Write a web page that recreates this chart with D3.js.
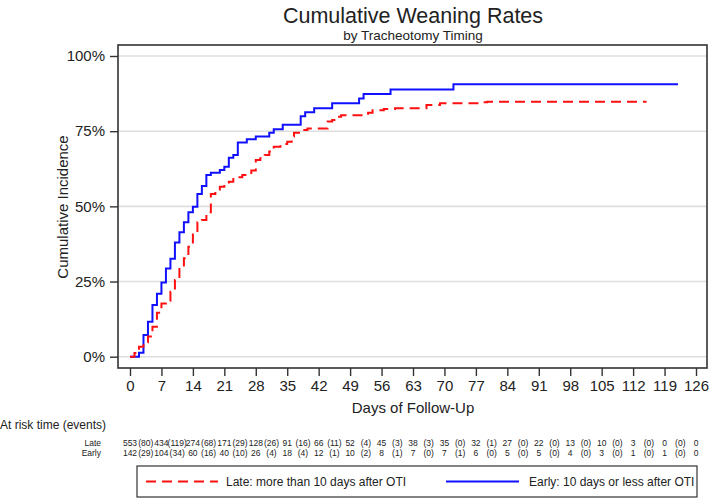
<!DOCTYPE html>
<html>
<head>
<meta charset="UTF-8">
<title>Cumulative Weaning Rates</title>
<style>
  body { margin: 0; background: #fff; }
  svg text { font-family: "Liberation Sans", Arial, sans-serif; fill: #222; }
</style>
</head>
<body>
<svg id="chart"></svg>
<script src="https://d3js.org/d3.v7.min.js"></script>
<script>
// x axis ticks (days)
var xTicks = [0, 7, 14, 21, 28, 35, 42, 49, 56, 63, 70, 77, 84, 91, 98, 105, 112, 119, 126];
var yTicks = [0, 25, 50, 75, 100];

// Late group: step times (days) and cumulative incidence (%)
var lateDays = [0, 1, 2, 3, 4, 5, 6, 7, 8, 9, 10, 11, 12, 13, 14, 15, 16, 17, 18, 19, 20, 21, 22, 23, 25, 27, 28, 29, 30, 31, 32, 33.5, 35, 36, 36.5, 38, 39.5, 44, 45, 46, 47, 53, 54, 56.5, 59, 66, 69, 78, 79.5, 115];
var lateCum = [0, 1.2, 3.3, 4.8, 6.7, 10.0, 14.6, 17.7, 18.5, 21.6, 25.5, 29.6, 32.7, 36.6, 41.2, 44.7, 45.5, 48.0, 54.1, 54.9, 56.5, 57.4, 58.2, 59.7, 60.4, 61.9, 65.4, 66.0, 67.1, 68.2, 69.8, 70.7, 71.5, 73.2, 74.5, 75.4, 75.9, 78.2, 78.7, 79.8, 80.3, 81.1, 82.0, 82.4, 82.6, 83.7, 84.3, 84.6, 84.8, 84.8];

// Early group
var earlyDays = [0, 2, 3, 4, 5, 6, 7, 8, 9, 10, 11, 12, 13, 14, 15, 16, 17, 18, 20, 21, 22, 23, 24, 26, 28, 31, 32, 34, 38, 39, 41, 45, 51, 52, 58, 72, 122];
var earlyCum = [0, 1.3, 7.2, 11.6, 17.2, 20.9, 24.7, 29.3, 32.6, 38.0, 41.4, 44.7, 48.0, 49.9, 54.1, 56.8, 60.4, 61.2, 62.1, 63.2, 66.2, 67.1, 71.2, 72.3, 73.2, 74.5, 75.6, 77.1, 80.0, 81.3, 82.6, 84.3, 85.9, 87.4, 88.9, 90.6, 90.6];

// risk table
var lateAtRisk = [553, 434, 274, 171, 128, 91, 66, 52, 45, 38, 35, 32, 27, 22, 13, 10, 3, 0, 0];
var lateEvents = [80, 119, 68, 29, 26, 16, 11, 4, 3, 3, 0, 1, 0, 0, 0, 0, 0, 0];
var earlyAtRisk = [142, 104, 60, 40, 26, 18, 12, 10, 8, 7, 7, 6, 5, 5, 4, 3, 1, 1, 0];
var earlyEvents = [29, 34, 16, 10, 4, 4, 1, 2, 1, 0, 1, 0, 0, 0, 0, 0, 0, 0];

var width = 709, height = 502;
var svg = d3.select("#chart").attr("width", width).attr("height", height);

var x = d3.scaleLinear().domain([0, 126]).range([130, 696]);
var y = d3.scaleLinear().domain([0, 100]).range([356.7, 56]);

// titles
svg.append("text").attr("x", 413).attr("y", 23).attr("text-anchor", "middle")
  .style("font-size", "21.5px").text("Cumulative Weaning Rates");
svg.append("text").attr("x", 413).attr("y", 40).attr("text-anchor", "middle")
  .style("font-size", "13.5px").text("by Tracheotomy Timing");

// gridlines
svg.append("g").selectAll("line").data(yTicks).enter().append("line")
  .attr("x1", 118).attr("x2", 707)
  .attr("y1", d => y(d)).attr("y2", d => y(d))
  .attr("stroke", "#dedede").attr("stroke-width", 1.6);

// frame
svg.append("rect").attr("x", 118).attr("y", 45).attr("width", 589).attr("height", 323)
  .attr("fill", "none").attr("stroke", "#333").attr("stroke-width", 1.6);

// axes
var xAxis = svg.append("g").attr("transform", "translate(0,368)")
  .call(d3.axisBottom(x).tickValues(xTicks).tickSize(8).tickPadding(4));
var yAxis = svg.append("g").attr("transform", "translate(118,0)")
  .call(d3.axisLeft(y).tickValues(yTicks).tickFormat(d => d + "%").tickSize(8).tickPadding(5));
[xAxis, yAxis].forEach(function(a) {
  a.select(".domain").remove();
  a.selectAll(".tick line").attr("stroke", "#333").attr("stroke-width", 1.4);
  a.selectAll(".tick text").style("font-size", "15px").style("font-family", "Liberation Sans, Arial, sans-serif").attr("fill", "#222");
});

svg.append("text").attr("x", 413).attr("y", 413).attr("text-anchor", "middle")
  .style("font-size", "15px").text("Days of Follow-Up");
svg.append("text").attr("transform", "translate(68,207) rotate(-90)").attr("text-anchor", "middle")
  .style("font-size", "15px").text("Cumulative Incidence");

// curves
var line = d3.line().x(d => x(d[0])).y(d => y(d[1])).curve(d3.curveStepAfter);
svg.append("path").datum(d3.zip(earlyDays, earlyCum))
  .attr("d", line).attr("fill", "none").attr("stroke", "#1010ff").attr("stroke-width", 2);
svg.append("path").datum(d3.zip(lateDays, lateCum))
  .attr("d", line).attr("fill", "none").attr("stroke", "#ff1010").attr("stroke-width", 2)
  .attr("stroke-dasharray", "10,6");

// risk table
svg.append("text").attr("x", 0).attr("y", 429).style("font-size", "12px").text("At risk time (events)");
var rows = [
  {label: "Late", n: lateAtRisk, e: lateEvents, y: 446},
  {label: "Early", n: earlyAtRisk, e: earlyEvents, y: 456}
];
rows.forEach(function(r) {
  var g = svg.append("g").style("font-size", "8.5px");
  g.append("text").attr("x", 101).attr("y", r.y).attr("text-anchor", "end").text(r.label);
  g.selectAll(".n").data(r.n).enter().append("text")
    .attr("x", (d, i) => x(xTicks[i])).attr("y", r.y).attr("text-anchor", "middle").text(d => d);
  g.selectAll(".e").data(r.e).enter().append("text")
    .attr("x", (d, i) => (x(xTicks[i]) + x(xTicks[i + 1])) / 2).attr("y", r.y)
    .attr("text-anchor", "middle").text(d => "(" + d + ")");
});

// legend
var lg = svg.append("g");
lg.append("rect").attr("x", 137).attr("y", 466).attr("width", 560).attr("height", 31)
  .attr("fill", "#fff").attr("stroke", "#333").attr("stroke-width", 1.2);
lg.append("line").attr("x1", 146).attr("x2", 218).attr("y1", 481.5).attr("y2", 481.5)
  .attr("stroke", "#ff1010").attr("stroke-width", 2).attr("stroke-dasharray", "10,6");
lg.append("text").attr("x", 226).attr("y", 486).style("font-size", "12px").text("Late: more than 10 days after OTI");
lg.append("line").attr("x1", 446).attr("x2", 519).attr("y1", 481.5).attr("y2", 481.5)
  .attr("stroke", "#1010ff").attr("stroke-width", 2);
lg.append("text").attr("x", 529).attr("y", 486).style("font-size", "12px").text("Early: 10 days or less after OTI");
</script>
</body>
</html>
